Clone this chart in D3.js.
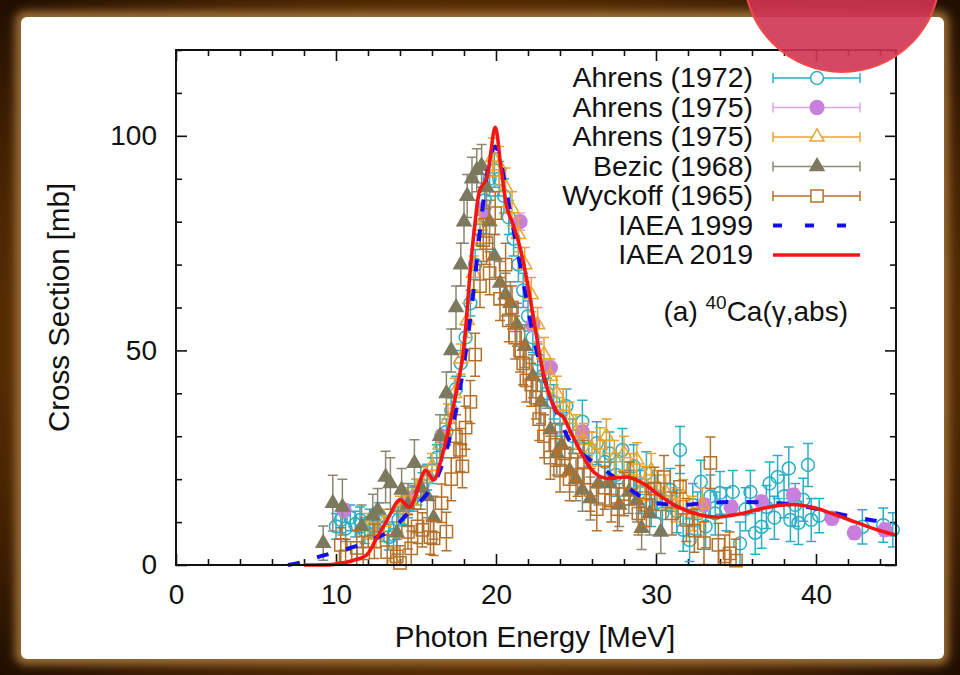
<!DOCTYPE html>
<html>
<head>
<meta charset="utf-8">
<script src="https://cdn.jsdelivr.net/npm/d3@7"></script>
<style>
  html, body { margin: 0; padding: 0; background: #4a2800; }
  svg { display: block; }
  text { font-family: "Liberation Sans", Arial, sans-serif; fill: #111; }
</style>
</head>
<body>
<svg id="chart"></svg>
<script>
// ---- data ----
var xDomain = [0, 45];
var yDomain = [0, 120];
var xMajor = [0, 10, 20, 30, 40];
var yMajor = [0, 50, 100];

// [energy MeV, cross section mb, error mb]
var ahrens1972 = [
  [10.0, 9.0, 3], [10.3, 10.5, 3], [10.6, 8.5, 3], [10.9, 11.0, 3], [11.2, 9.5, 3],
  [11.5, 10.5, 3], [11.8, 8.0, 3], [12.1, 10.0, 3], [12.4, 9.0, 3], [12.7, 11.5, 3],
  [13.0, 8.5, 3], [13.3, 6.5, 3], [13.6, 7.0, 3], [13.9, 10.5, 3], [14.2, 12.5, 3],
  [14.5, 14.0, 3], [14.8, 15.5, 3], [15.1, 17.0, 3], [15.4, 18.5, 3], [15.7, 20.5, 3],
  [16.0, 22.0, 3], [16.3, 25.0, 3], [16.6, 28.0, 3], [16.9, 31.0, 3], [17.2, 36.0, 3],
  [17.5, 41.0, 3], [17.8, 47.0, 3], [18.1, 53.0, 3], [18.4, 61.0, 3], [18.7, 70.0, 3.5],
  [19.0, 78.0, 3.5], [19.3, 85.0, 4], [19.6, 90.0, 4], [19.9, 92.0, 4], [20.2, 90.0, 4],
  [20.5, 86.0, 4], [20.8, 81.0, 4], [21.1, 76.0, 4], [21.4, 70.0, 4], [21.7, 64.0, 4],
  [22.0, 58.0, 3.5], [22.3, 53.0, 3.5], [22.6, 48.0, 3.5], [22.9, 44.0, 3.5], [23.2, 40.0, 3.5],
  [23.6, 38.0, 4], [24.0, 34.0, 4], [24.4, 37.0, 4], [24.8, 30.0, 4], [25.4, 33.4, 5],
  [25.8, 27.0, 4], [26.3, 28.4, 5], [26.8, 24.0, 5], [27.1, 26.0, 5], [27.5, 21.0, 5],
  [27.9, 26.8, 5], [28.3, 19.0, 5], [28.6, 23.0, 5], [29.0, 17.0, 5], [29.4, 21.4, 5],
  [29.7, 14.0, 5], [30.0, 16.0, 5], [30.4, 12.0, 5], [30.9, 17.5, 5], [31.3, 12.5, 5],
  [31.5, 26.8, 5.5], [31.7, 8.2, 5], [32.1, 5.8, 5], [32.3, 14.0, 5], [32.6, 12.0, 5],
  [32.8, 19.4, 5], [33.1, 9.0, 5], [33.4, 16.0, 5], [33.7, 12.0, 5], [34.0, 16.8, 5],
  [34.4, 13.0, 5], [34.8, 17.0, 5], [35.25, 5.0, 5], [35.6, 13.0, 5], [35.9, 17.0, 5],
  [36.2, 7.5, 5], [36.6, 8.9, 5], [36.9, 13.5, 5], [37.1, 19.0, 5], [37.4, 11.0, 5],
  [37.6, 20.5, 5], [38.0, 16.0, 5], [38.3, 22.5, 5], [38.4, 10.5, 5], [38.7, 14.0, 5],
  [38.9, 9.8, 5], [39.2, 15.2, 5], [39.5, 23.3, 5], [39.7, 10.5, 5], [40.2, 11.5, 4],
  [42.9, 8.9, 4], [44.2, 9.3, 4], [44.8, 8.2, 4]
];

var ahrens1975a = [
  [10.5, 12.8, 1.5], [14.6, 15.6, 1.5], [16.6, 30.0, 1.5], [19.2, 82.7, 2], [21.5, 80.0, 2],
  [22.3, 56.0, 1.5], [23.4, 46.0, 1.5], [25.4, 31.0, 1.5], [33.0, 14.0, 1.5], [34.7, 13.5, 1.5],
  [36.6, 14.7, 1.5], [38.6, 16.3, 1.5], [41.0, 10.9, 1.5], [42.4, 7.5, 1.5], [44.3, 8.2, 1.5]
];

var ahrens1975b = [
  [12.0, 9.0, 3], [12.5, 7.0, 3], [13.0, 10.0, 3], [13.6, 1.0, 3], [14.0, 13.0, 3],
  [14.5, 15.0, 3], [15.0, 17.0, 3], [15.5, 20.0, 3], [16.0, 23.0, 3], [16.5, 28.0, 3],
  [17.0, 34.0, 3.5], [17.4, 40.0, 3.5], [17.8, 48.0, 3.5], [18.2, 57.0, 4], [18.6, 68.0, 4],
  [19.0, 79.0, 4], [19.4, 88.0, 4], [19.8, 95.0, 4.5], [20.2, 93.0, 4.5], [20.6, 88.0, 4.5],
  [21.0, 83.0, 4], [21.4, 77.0, 4], [21.8, 70.0, 4], [22.2, 63.0, 4], [22.6, 56.0, 4],
  [23.0, 49.0, 4], [23.4, 44.0, 4], [23.8, 40.0, 4], [24.2, 37.0, 4], [24.6, 34.0, 4],
  [25.0, 31.0, 4], [25.5, 29.0, 4], [26.0, 27.0, 4], [26.5, 28.0, 4], [26.9, 30.0, 4],
  [27.4, 25.0, 4], [28.0, 26.0, 4], [28.4, 22.0, 4], [28.8, 24.5, 4], [29.3, 19.0, 4],
  [29.7, 22.0, 4], [30.1, 18.0, 4], [30.6, 17.0, 4], [31.2, 14.0, 4], [31.7, 15.9, 4],
  [32.3, 12.0, 4], [32.9, 14.0, 4]
];

var bezic1968 = [
  [9.2, 5.1, 4], [9.8, 14.4, 6.5], [10.4, 13.5, 6.5], [11.6, 9.0, 5], [12.3, 11.5, 5],
  [12.6, 12.8, 5], [13.1, 20.5, 6], [13.4, 19.0, 6], [13.8, 7.5, 5], [14.1, 17.5, 5],
  [14.5, 14.0, 5], [14.9, 23.7, 5.5], [15.3, 18.0, 5], [15.7, 16.0, 5], [16.1, 11.0, 5],
  [16.5, 30.0, 5], [16.9, 40.0, 5], [17.2, 50.0, 5], [17.5, 60.0, 5], [17.8, 70.0, 5],
  [18.0, 80.0, 5], [18.2, 86.0, 5], [18.5, 90.0, 5], [18.8, 92.0, 5], [19.1, 93.0, 5],
  [19.4, 88.0, 5], [19.6, 80.0, 5], [19.9, 72.0, 5], [20.25, 65.7, 5], [20.6, 63.0, 5],
  [20.9, 61.0, 5], [21.3, 56.0, 5], [21.8, 51.0, 5], [22.3, 44.0, 5], [22.8, 38.0, 5],
  [23.4, 31.5, 5], [23.8, 26.0, 5], [24.1, 28.0, 5], [24.6, 22.0, 5], [25.0, 20.0, 5],
  [25.4, 17.5, 5], [25.9, 15.5, 5], [26.4, 19.0, 5], [27.1, 19.0, 5], [27.7, 14.0, 5],
  [28.3, 17.0, 5], [28.8, 15.0, 5], [29.1, 8.6, 5], [29.6, 12.0, 5], [30.3, 7.7, 5]
];

var wyckoff1965 = [
  [10.3, 4.7, 4], [10.6, 2.0, 4], [11.3, 4.0, 4], [11.7, 2.7, 4], [12.4, 5.5, 4],
  [13.2, 3.0, 4], [13.8, 2.0, 4], [14.0, 0.5, 4], [14.5, 7.7, 4], [14.7, 3.9, 4],
  [15.1, 9.0, 4], [15.4, 8.2, 4], [15.9, 6.5, 4], [16.1, 6.2, 4], [16.6, 14.4, 4.5],
  [16.9, 7.8, 4.5], [17.2, 20.0, 5], [17.5, 30.0, 5], [17.75, 26.8, 5], [17.9, 23.0, 5],
  [18.1, 32.0, 5], [18.4, 38.0, 5], [18.7, 49.0, 5], [19.0, 65.0, 5], [19.2, 75.7, 5],
  [19.4, 75.0, 5], [19.6, 68.0, 5], [19.95, 82.0, 5], [20.25, 62.0, 5], [20.6, 70.0, 5],
  [20.8, 57.0, 5], [21.0, 60.0, 5], [21.2, 53.0, 5], [21.5, 50.0, 5], [21.7, 47.0, 5],
  [21.9, 43.0, 5], [22.2, 42.0, 5], [22.5, 39.0, 5], [22.7, 34.0, 5], [23.0, 30.0, 5],
  [23.4, 25.0, 5], [23.7, 28.0, 5], [24.0, 22.0, 5], [24.3, 26.0, 5], [24.6, 20.0, 5],
  [25.1, 21.0, 5], [25.5, 24.0, 5], [25.9, 17.5, 5], [26.3, 13.0, 5], [26.8, 18.0, 5],
  [27.2, 15.0, 5], [27.6, 13.0, 5], [28.0, 16.5, 5], [28.4, 19.0, 5], [28.9, 12.0, 5],
  [29.4, 14.0, 5], [29.9, 17.8, 5], [30.5, 20.5, 5], [31.0, 12.0, 5], [31.5, 18.2, 5],
  [31.9, 10.5, 5], [32.4, 8.0, 5], [33.0, 5.1, 5], [33.4, 23.8, 6], [33.9, 4.7, 5],
  [34.3, 2.0, 5], [34.6, 2.7, 5], [35.0, 1.0, 5]
];

var iaea1999E = [7.0, 8.0, 9.0, 10.0, 11.1, 12.0, 12.9, 13.7, 14.4, 15.2, 16.0, 16.6, 17.2, 17.7,
  18.2, 18.6, 19.0, 19.4, 19.7, 19.95, 20.2, 20.6, 21.0, 21.4, 21.9, 22.4, 22.9, 23.5, 24.1,
  24.6, 25.5, 26.5, 27.2, 27.9, 28.7, 29.6, 30.5, 31.7, 33.4, 35.4, 37.6, 39.5, 41.3, 43.4, 45.0];
var iaea1999Y = [0.0, 0.8, 2.0, 3.0, 4.2, 5.5, 7.0, 9.0, 11.7, 14.5, 18.2, 23.0, 31.0, 40.0,
  52.0, 64.0, 78.0, 90.0, 96.0, 97.5, 95.5, 88.0, 80.0, 72.0, 62.0, 52.0, 45.0, 38.0, 33.0,
  29.0, 25.5, 23.0, 21.0, 19.0, 16.8, 14.8, 14.2, 14.0, 14.5, 14.7, 14.4, 13.5, 12.0, 10.5, 9.7];

var iaea2019E = [8.0, 10.0, 11.0, 11.9, 12.5, 13.2, 14.0, 14.6, 15.6, 16.1, 16.6, 17.0, 17.5,
  17.9, 18.1, 18.4, 18.7, 19.0, 19.4, 19.95, 20.3, 20.7, 21.1, 21.5, 22.0, 22.5, 23.1, 23.8,
  24.2, 24.6, 25.0, 25.5, 25.9, 26.4, 26.9, 27.5, 28.2, 28.8, 29.4, 30.0, 30.7, 31.4, 32.1,
  33.0, 33.8, 34.6, 35.4, 36.2, 37.1, 38.0, 39.0, 40.0, 41.0, 42.1, 43.2, 44.0, 45.0];
var iaea2019Y = [0.0, 0.2, 1.0, 2.3, 6.0, 10.5, 15.2, 13.5, 22.0, 19.8, 25.0, 31.0, 40.0,
  48.0, 55.0, 69.0, 80.0, 87.5, 90.0, 102.0, 93.0, 83.0, 79.0, 74.0, 65.0, 54.0, 42.4, 35.7,
  34.5, 31.5, 28.5, 25.0, 22.5, 20.8, 20.2, 20.3, 20.5, 19.8, 18.5, 16.8, 15.0, 13.5, 12.4,
  11.5, 11.2, 11.5, 12.0, 12.8, 13.5, 14.0, 14.0, 13.2, 12.0, 10.5, 9.0, 8.0, 7.0];

var legendLabels = ["Ahrens (1972)", "Ahrens (1975)", "Ahrens (1975)", "Bezic (1968)",
  "Wyckoff (1965)", "IAEA 1999", "IAEA 2019"];

// ---- drawing ----
var width = 960, height = 675;
var plot = {left: 176, right: 896, top: 50, bottom: 565};

var svg = d3.select('#chart').attr('width', width).attr('height', height);
var defs = svg.append('defs');

var blur = defs.append('filter').attr('id', 'soft')
    .attr('x', '-5%').attr('y', '-5%').attr('width', '110%').attr('height', '110%');
blur.append('feGaussianBlur').attr('stdDeviation', 4);

defs.append('clipPath').attr('id', 'plotClip')
  .append('rect')
    .attr('x', plot.left).attr('y', plot.top)
    .attr('width', plot.right - plot.left).attr('height', plot.bottom - plot.top);

// brown frame and white card
var bg = defs.append('radialGradient').attr('id', 'frameGrad')
    .attr('cx', '50%').attr('cy', '50%').attr('r', '72%');
bg.append('stop').attr('offset', '62%').attr('stop-color', '#603204');
bg.append('stop').attr('offset', '100%').attr('stop-color', '#1c0c00');

svg.append('rect').attr('width', width).attr('height', height).attr('fill', 'url(#frameGrad)');
svg.append('rect')
    .attr('x', 15).attr('y', 11).attr('width', 934).attr('height', 654)
    .attr('rx', 10).attr('fill', '#9a6a34').attr('filter', 'url(#soft)');
svg.append('rect')
    .attr('x', 21).attr('y', 17).attr('width', 923).attr('height', 642)
    .attr('rx', 6).attr('fill', '#ffffff');

var x = d3.scaleLinear().domain(xDomain).range([plot.left, plot.right]);
var y = d3.scaleLinear().domain(yDomain).range([plot.bottom, plot.top]);

var xMinor = d3.range(0, 46, 2).filter(function(d) { return d % 10 !== 0; });
var yMinor = d3.range(0, 121, 10).filter(function(d) { return d % 50 !== 0; });

function tickAxis(axis, values, size, labels) {
  return axis.tickValues(values).tickSize(size).tickPadding(19)
    .tickFormat(labels ? d3.format('d') : '');
}

var axes = [
  {gen: d3.axisBottom, pos: 'translate(0,' + plot.bottom + ')', scale: x, minor: xMinor, major: xMajor, labels: true},
  {gen: d3.axisTop, pos: 'translate(0,' + plot.top + ')', scale: x, minor: xMinor, major: xMajor, labels: false},
  {gen: d3.axisLeft, pos: 'translate(' + plot.left + ',0)', scale: y, minor: yMinor, major: yMajor, labels: true},
  {gen: d3.axisRight, pos: 'translate(' + plot.right + ',0)', scale: y, minor: yMinor, major: yMajor, labels: false}
];

axes.forEach(function(a) {
  var gMinor = svg.append('g').attr('transform', a.pos)
      .call(tickAxis(a.gen(a.scale), a.minor, -6, false));
  var gMajor = svg.append('g').attr('transform', a.pos)
      .call(tickAxis(a.gen(a.scale), a.major, -11, a.labels));
  [gMinor, gMajor].forEach(function(g) {
    g.select('.domain').remove();
    g.selectAll('line').attr('stroke', '#111').attr('stroke-width', 1.6);
    g.selectAll('text').attr('font-size', 28).attr('fill', '#111')
      .attr('font-family', '"Liberation Sans", Arial, sans-serif');
  });
});

// series styles
var series = [
  {data: ahrens1972, color: '#2aaec6', err: '#2aaec6', symbol: d3.symbolCircle, size: 130, fill: false},
  {data: ahrens1975a, color: '#c97fdc', err: '#d9a6e6', symbol: d3.symbolCircle, size: 150, fill: true},
  {data: ahrens1975b, color: '#eba42e', err: '#eba42e', symbol: d3.symbolTriangle, size: 85, fill: false},
  {data: bezic1968, color: '#7c7a5e', err: '#8a8870', symbol: d3.symbolTriangle, size: 85, fill: true},
  {data: wyckoff1965, color: '#b5702a', err: '#b5702a', symbol: d3.symbolSquare, size: 150, fill: false}
];

var capW = 5;

series.forEach(function(s) {
  var g = svg.append('g');
  var eb = g.append('g').attr('clip-path', 'url(#plotClip)')
      .attr('stroke', s.err).attr('stroke-width', 1.5).attr('fill', 'none');
  eb.selectAll('path')
    .data(s.data)
    .enter().append('path')
      .attr('d', function(d) {
        var px = x(d[0]), y0 = y(d[1] - d[2]), y1 = y(d[1] + d[2]);
        return 'M' + px + ',' + y0 + 'V' + y1 +
          'M' + (px - capW) + ',' + y0 + 'H' + (px + capW) +
          'M' + (px - capW) + ',' + y1 + 'H' + (px + capW);
      });
  g.selectAll('path.pt')
    .data(s.data)
    .enter().append('path')
      .attr('class', 'pt')
      .attr('d', d3.symbol().type(s.symbol).size(s.size))
      .attr('transform', function(d) { return 'translate(' + x(d[0]) + ',' + y(d[1]) + ')'; })
      .attr('fill', s.fill ? s.color : 'none')
      .attr('stroke', s.color)
      .attr('stroke-width', 1.5);
});

var line = d3.line()
    .x(function(d) { return x(d[0]); })
    .y(function(d) { return y(d[1]); })
    .curve(d3.curveCatmullRom.alpha(0.5));

var iaea1999 = iaea1999E.map(function(e, i) { return [e, iaea1999Y[i]]; });
var iaea2019 = iaea2019E.map(function(e, i) { return [e, iaea2019Y[i]]; });

svg.append('path').datum(iaea1999)
    .attr('d', line).attr('fill', 'none')
    .attr('stroke', '#1010f0').attr('stroke-width', 4)
    .attr('stroke-dasharray', '12,18');

svg.append('path').datum(iaea2019)
    .attr('d', line).attr('fill', 'none')
    .attr('stroke', '#f51515').attr('stroke-width', 3.6)
    .attr('stroke-linejoin', 'round');

// plot border
svg.append('rect')
    .attr('x', plot.left).attr('y', plot.top)
    .attr('width', plot.right - plot.left).attr('height', plot.bottom - plot.top)
    .attr('fill', 'none').attr('stroke', '#111').attr('stroke-width', 2);

// axis titles
svg.append('text')
    .attr('x', (plot.left + plot.right) / 2 - 1).attr('y', 647)
    .attr('text-anchor', 'middle').attr('font-size', 29.5)
    .text('Photon Energy [MeV]');

svg.append('text')
    .attr('transform', 'translate(69,' + ((plot.top + plot.bottom) / 2) + ') rotate(-90)')
    .attr('text-anchor', 'middle').attr('font-size', 29.5)
    .text('Cross Section [mb]');

// legend
var legend = svg.append('g');
var rowY = function(i) { return 87 + i * 29.5; };
var sx0 = 773, sx1 = 860, sxm = 817;

legendLabels.forEach(function(label, i) {
  legend.append('text')
      .attr('x', 753).attr('y', rowY(i))
      .attr('text-anchor', 'end').attr('font-size', 28.5)
      .text(label);

  var cy = rowY(i) - 9;
  if (i < series.length) {
    var s = series[i];
    legend.append('path')
        .attr('d', 'M' + sx0 + ',' + cy + 'H' + sx1 +
          'M' + sx0 + ',' + (cy - 5) + 'V' + (cy + 5) +
          'M' + sx1 + ',' + (cy - 5) + 'V' + (cy + 5))
        .attr('stroke', s.err).attr('stroke-width', 1.5).attr('fill', 'none');
    legend.append('path')
        .attr('d', d3.symbol().type(s.symbol).size(s.size))
        .attr('transform', 'translate(' + sxm + ',' + cy + ')')
        .attr('fill', s.fill ? s.color : '#fff')
        .attr('stroke', s.color).attr('stroke-width', 1.5);
  } else if (i === 5) {
    legend.append('line')
        .attr('x1', sx0).attr('x2', sx1).attr('y1', cy).attr('y2', cy)
        .attr('stroke', '#1010f0').attr('stroke-width', 4)
        .attr('stroke-dasharray', '9,23');
  } else {
    legend.append('line')
        .attr('x1', sx0).attr('x2', sx1).attr('y1', cy).attr('y2', cy)
        .attr('stroke', '#f51515').attr('stroke-width', 3.6);
  }
});

// reaction label
var note = svg.append('text')
    .attr('x', 848).attr('y', 321)
    .attr('text-anchor', 'end').attr('font-size', 28);
note.append('tspan').text('(a) ');
note.append('tspan').attr('font-size', 19).attr('dy', -12).text('40');
note.append('tspan').attr('dy', 12).text('Ca(\u03b3,abs)');

// red marker circle in the corner
svg.append('circle')
    .attr('cx', 842).attr('cy', -26).attr('r', 98)
    .attr('fill', '#cf3452').attr('fill-opacity', 0.9)
    .attr('stroke', '#ee4a4a').attr('stroke-width', 2);
</script>
</body>
</html>
